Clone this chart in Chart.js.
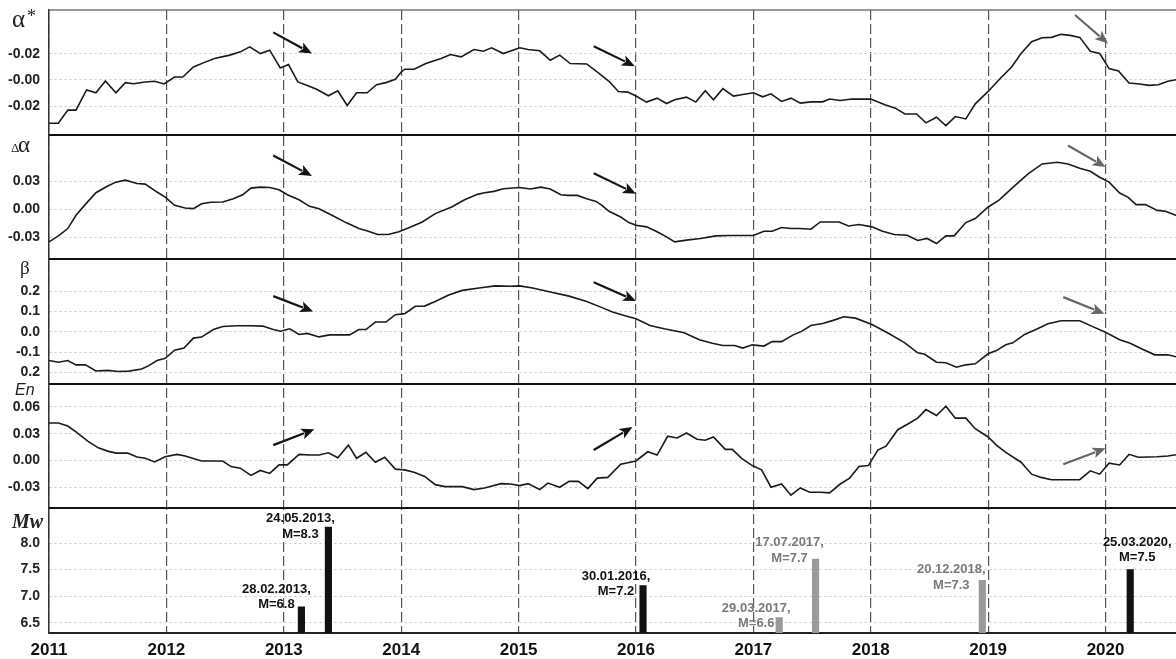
<!DOCTYPE html>
<html>
<head>
<meta charset="utf-8">
<script src="https://cdn.jsdelivr.net/npm/chart.js@4.4.1/dist/chart.umd.min.js"></script>
<style>
  html, body { margin: 0; padding: 0; background: #fff; }
  #wrap { width: 1176px; height: 659px; position: relative; }
</style>
</head>
<body>
<div id="wrap"><canvas id="chart"></canvas></div>
<script>
// x positions are decimal years
const yearTicks = [2011, 2012, 2013, 2014, 2015, 2016, 2017, 2018, 2019, 2020];

// panel 1: alpha*
const alphaYears = [2011.00,2011.08,2011.16,2011.23,2011.32,2011.40,2011.48,2011.57,2011.65,2011.72,2011.82,2011.90,2011.98,
  2012.07,2012.14,2012.23,2012.32,2012.41,2012.54,2012.63,2012.71,2012.80,2012.88,2012.97,
  2013.04,2013.12,2013.20,2013.28,2013.38,2013.46,2013.54,2013.62,2013.71,2013.79,2013.87,2013.95,
  2014.00,2014.03,2014.11,2014.21,2014.34,2014.42,2014.51,2014.62,2014.70,2014.77,2014.87,
  2015.01,2015.08,2015.18,2015.27,2015.35,2015.44,2015.58,2015.68,
  2015.77,2015.85,2015.93,
  2016.00,2016.09,2016.18,2016.26,2016.33,2016.43,2016.51,2016.59,2016.66,2016.74,2016.83,2016.91,
  2017.00,2017.08,2017.15,2017.24,2017.32,2017.40,2017.49,2017.59,2017.65,2017.74,2017.84,
  2018.00,2018.12,2018.21,2018.29,2018.39,2018.47,2018.56,2018.64,2018.72,2018.81,2018.89,
  2019.00,2019.10,2019.20,2019.28,2019.37,2019.46,2019.54,2019.62,2019.70,2019.78,2019.87,2019.95,
  2020.03,2020.11,2020.20,2020.29,2020.37,2020.45,2020.53,2020.62];
const alphaValues = [-0.0329,-0.0329,-0.0229,-0.0229,-0.0076,-0.0097,-0.0008,-0.0097,-0.0020,-0.0028,-0.0015,-0.0010,-0.0030,
  0.0023,0.0023,0.0099,0.0132,0.0163,0.0189,0.0214,0.0252,0.0201,0.0227,0.0092,
  0.0117,-0.0015,-0.0041,-0.0071,-0.0120,-0.0082,-0.0194,-0.0097,-0.0097,-0.0036,-0.0020,0.0005,
  0.0061,0.0082,0.0082,0.0125,0.0163,0.0194,0.0176,0.0232,0.0219,0.0245,0.0201,
  0.0245,0.0232,0.0222,0.0150,0.0189,0.0125,0.0122,0.0054,
  -0.0010,-0.0087,-0.0092,
  -0.0122,-0.0168,-0.0138,-0.0179,-0.0150,-0.0130,-0.0168,-0.0082,-0.0150,-0.0066,-0.0122,-0.0110,
  -0.0097,-0.0128,-0.0105,-0.0163,-0.0138,-0.0176,-0.0166,-0.0166,-0.0145,-0.0156,-0.0145,
  -0.0145,-0.0189,-0.0214,-0.0258,-0.0258,-0.0326,-0.0283,-0.0347,-0.0278,-0.0296,-0.0181,
  -0.0087,0.0010,0.0099,0.0201,0.0291,0.0321,0.0324,0.0347,0.0339,0.0324,0.0219,0.0201,
  0.0087,0.0069,-0.0023,-0.0031,-0.0041,-0.0036,-0.0010,0.0005];

// panel 2: delta alpha
const dAlphaYears = [2011.00,2011.08,2011.16,2011.23,2011.31,2011.40,2011.50,2011.57,2011.65,2011.75,2011.82,2011.92,2011.99,
  2012.07,2012.16,2012.23,2012.30,2012.38,2012.48,2012.57,2012.65,2012.72,2012.80,2012.88,2012.96,
  2013.03,2013.13,2013.22,2013.30,2013.41,2013.53,2013.64,2013.72,2013.80,2013.89,2013.98,
  2014.06,2014.18,2014.29,2014.43,2014.54,2014.65,2014.71,2014.79,2014.87,
  2015.01,2015.10,2015.19,2015.27,2015.36,2015.42,2015.50,2015.58,2015.66,
  2015.71,2015.77,2015.87,2015.94,
  2016.00,2016.09,2016.18,2016.26,2016.33,2016.43,2016.55,2016.68,2016.80,
  2017.00,2017.09,2017.16,2017.24,2017.32,2017.40,2017.49,2017.57,2017.65,2017.73,2017.81,2017.90,
  2018.01,2018.10,2018.20,2018.31,2018.40,2018.48,2018.56,2018.64,2018.71,2018.81,2018.89,
  2019.00,2019.09,2019.22,2019.34,2019.46,2019.59,2019.68,2019.78,2019.87,2019.95,
  2020.03,2020.12,2020.19,2020.26,2020.34,2020.44,2020.51,2020.62];
const dAlphaValues = [-0.0348,-0.0284,-0.0206,-0.0064,0.0053,0.0178,0.0249,0.0291,0.0312,0.0277,0.0270,0.0185,0.0131,
  0.0043,0.0014,0.0007,0.0060,0.0075,0.0078,0.0114,0.0156,0.0227,0.0238,0.0234,0.0209,
  0.0156,0.0103,0.0032,0.0007,-0.0064,-0.0142,-0.0206,-0.0234,-0.0270,-0.0270,-0.0241,
  -0.0199,-0.0135,-0.0046,0.0025,0.0103,0.0160,0.0178,0.0192,0.0220,
  0.0234,0.0217,0.0238,0.0217,0.0156,0.0149,0.0149,0.0114,0.0085,
  0.0043,-0.0021,-0.0082,-0.0142,
  -0.0170,-0.0188,-0.0241,-0.0295,-0.0348,-0.0330,-0.0312,-0.0284,-0.0280,
  -0.0280,-0.0234,-0.0234,-0.0195,-0.0206,-0.0206,-0.0213,-0.0135,-0.0135,-0.0135,-0.0178,-0.0163,
  -0.0188,-0.0234,-0.0270,-0.0277,-0.0334,-0.0312,-0.0366,-0.0284,-0.0284,-0.0142,-0.0099,
  0.0025,0.0096,0.0245,0.0380,0.0486,0.0504,0.0486,0.0440,0.0408,0.0344,
  0.0291,0.0174,0.0131,0.0050,0.0050,-0.0011,-0.0021,-0.0075];

// panel 3: beta
const betaYears = [2011.00,2011.08,2011.16,2011.23,2011.31,2011.40,2011.50,2011.59,2011.68,2011.79,2011.85,2011.92,2011.99,
  2012.07,2012.15,2012.23,2012.30,2012.40,2012.48,2012.60,2012.72,2012.82,2012.91,2012.97,
  2013.05,2013.13,2013.20,2013.30,2013.39,2013.56,2013.64,2013.70,2013.78,2013.87,2013.95,
  2014.03,2014.12,2014.20,2014.29,2014.40,2014.52,2014.68,2014.80,2014.93,
  2015.01,2015.12,2015.27,2015.43,2015.58,2015.70,
  2015.80,2015.90,
  2016.00,2016.12,2016.24,2016.41,2016.54,2016.65,2016.74,2016.84,2016.91,2016.99,
  2017.09,2017.16,2017.24,2017.34,2017.41,2017.49,2017.59,2017.68,2017.77,2017.87,
  2018.01,2018.15,2018.29,2018.40,2018.46,2018.56,2018.64,2018.73,2018.81,2018.89,
  2019.00,2019.07,2019.15,2019.21,2019.31,2019.42,2019.51,2019.62,2019.78,2019.90,
  2020.00,2020.12,2020.21,2020.31,2020.42,2020.53,2020.62];
const betaValues = [-0.141,-0.149,-0.141,-0.162,-0.162,-0.192,-0.189,-0.195,-0.193,-0.182,-0.166,-0.141,-0.130,
  -0.090,-0.080,-0.031,-0.026,0.011,0.026,0.030,0.030,0.028,0.011,0.003,
  0.015,-0.013,-0.008,-0.025,-0.015,-0.015,0.011,0.011,0.048,0.048,0.084,
  0.089,0.125,0.126,0.149,0.179,0.203,0.216,0.225,0.223,
  0.225,0.215,0.195,0.175,0.149,0.121,
  0.097,0.080,
  0.064,0.031,0.015,-0.005,-0.039,-0.056,-0.067,-0.067,-0.080,-0.064,
  -0.070,-0.048,-0.048,-0.015,0.002,0.031,0.041,0.056,0.074,0.067,
  0.036,-0.007,-0.054,-0.103,-0.110,-0.149,-0.152,-0.174,-0.162,-0.157,
  -0.108,-0.092,-0.064,-0.054,-0.013,0.015,0.039,0.054,0.054,0.023,
  -0.002,-0.039,-0.056,-0.084,-0.113,-0.113,-0.125];

// panel 4: En
const enYears = [2011.00,2011.08,2011.16,2011.23,2011.33,2011.42,2011.50,2011.57,2011.67,2011.75,2011.82,2011.90,2011.99,
  2012.09,2012.16,2012.30,2012.38,2012.48,2012.55,2012.63,2012.72,2012.80,2012.88,2012.96,
  2013.03,2013.13,2013.22,2013.30,2013.38,2013.46,2013.55,2013.62,2013.70,2013.78,2013.86,2013.95,
  2014.03,2014.11,2014.20,2014.29,2014.37,2014.52,2014.62,2014.71,2014.85,2014.93,
  2015.01,2015.08,2015.18,2015.25,2015.35,2015.43,2015.51,2015.59,2015.67,2015.76,
  2015.87,
  2016.00,2016.10,2016.18,2016.27,2016.35,2016.43,2016.52,2016.59,2016.66,2016.76,2016.82,2016.90,2016.99,
  2017.07,2017.15,2017.24,2017.32,2017.40,2017.48,2017.57,2017.65,2017.74,2017.82,2017.90,2017.98,
  2018.06,2018.13,2018.23,2018.32,2018.40,2018.47,2018.56,2018.64,2018.72,2018.81,2018.89,
  2019.00,2019.07,2019.15,2019.28,2019.37,2019.45,2019.54,2019.78,2019.87,2019.95,
  2020.03,2020.12,2020.20,2020.28,2020.44,2020.53,2020.62];
const enValues = [0.0419,0.0419,0.0386,0.0320,0.0217,0.0143,0.0106,0.0084,0.0084,0.0040,0.0026,-0.0015,0.0044,
  0.0070,0.0051,-0.0004,-0.0004,-0.0004,-0.0066,-0.0084,-0.0165,-0.0110,-0.0143,-0.0048,
  -0.0048,0.0070,0.0062,0.0062,0.0088,0.0033,0.0173,0.0026,0.0092,-0.0018,0.0037,-0.0095,
  -0.0103,-0.0129,-0.0176,-0.0268,-0.0290,-0.0290,-0.0323,-0.0305,-0.0257,-0.0261,
  -0.0279,-0.0257,-0.0323,-0.0250,-0.0297,-0.0231,-0.0231,-0.0312,-0.0195,-0.0187,
  -0.0040,
  -0.0004,0.0099,0.0062,0.0272,0.0253,0.0308,0.0239,0.0228,0.0264,0.0125,0.0125,0.0026,-0.0055,
  -0.0103,-0.0297,-0.0261,-0.0386,-0.0305,-0.0353,-0.0353,-0.0360,-0.0261,-0.0195,-0.0066,-0.0055,
  0.0117,0.0162,0.0345,0.0411,0.0474,0.0569,0.0503,0.0606,0.0474,0.0474,0.0356,
  0.0264,0.0173,0.0092,-0.0018,-0.0151,-0.0187,-0.0213,-0.0213,-0.0114,-0.0151,
  -0.0029,-0.0048,0.0070,0.0037,0.0044,0.0051,0.0070];

// panel 5: earthquakes
const quakeYears = [2013.15, 2013.38, 2016.06, 2017.22, 2017.53, 2018.95, 2020.21];
const quakeMags = [6.8, 8.3, 7.2, 6.6, 7.7, 7.3, 7.5];
const quakeDates = ['28.02.2013,', '24.05.2013,', '30.01.2016,', '29.03.2017,', '17.07.2017,', '20.12.2018,', '25.03.2020,'];
const quakeTone = ['dark', 'dark', 'dark', 'gray', 'gray', 'gray', 'dark'];

// y ticks per panel (labels kept as printed)
const alphaTicks = [0.02, 0, -0.02];
const alphaTickText = ['-0.02', '-0.00', '-0.02'];
const dAlphaTicks = [0.03, 0, -0.03];
const dAlphaTickText = ['0.03', '0.00', '-0.03'];
const betaTicks = [0.2, 0.1, 0, -0.1, -0.2];
const betaTickText = ['0.2', '0.1', '0.0', '-0.1', '0.2'];
const enTicks = [0.06, 0.03, 0, -0.03];
const enTickText = ['0.06', '0.03', '0.00', '-0.03'];
const mwTicks = [8.0, 7.5, 7.0, 6.5];
const mwTickText = ['8.0', '7.5', '7.0', '6.5'];

// trend arrows (data coords): panel, from, to, tone
const arrowAxis = ['y1', 'y1', 'y1', 'y2', 'y2', 'y2', 'y3', 'y3', 'y3', 'y4', 'y4', 'y4'];
const arrowFromX = [2012.91, 2015.64, 2019.74, 2012.91, 2015.64, 2019.68, 2012.91, 2015.64, 2019.64, 2012.91, 2015.64, 2019.64];
const arrowFromY = [0.0362, 0.0257, 0.0494, 0.0577, 0.0385, 0.0684, 0.175, 0.243, 0.170, 0.0173, 0.0118, -0.0040];
const arrowToX = [2013.24, 2015.99, 2020.02, 2013.24, 2016.00, 2020.00, 2013.25, 2016.00, 2019.99, 2013.26, 2015.97, 2020.00];
const arrowToY = [0.0201, 0.0105, 0.0278, 0.0356, 0.0168, 0.0452, 0.100, 0.151, 0.089, 0.0349, 0.0375, 0.0137];
const arrowTone = ['dark', 'dark', 'gray', 'dark', 'dark', 'gray', 'dark', 'dark', 'gray', 'dark', 'dark', 'gray'];

const MW_MIN = 6.31;
const DARK = '#141414';
const GRAY = '#666666';

// label placement next to the quake bars (pixels)
const labelShiftX = [-25, -28, -27, -23, -26, -31, 7];
const labelShiftY = [-2, 7, 6, 6, -1, 5, -12];

function pts(xs, ys) {
  return xs.map((x, i) => ({ x: x, y: ys[i] }));
}

function yAxis(min, max, tickVals, tickText) {
  return {
    type: 'linear',
    position: 'left',
    stack: 'panels',
    stackWeight: 1,
    min: min,
    max: max,
    afterBuildTicks: s => { s.ticks = tickVals.map(v => ({ value: v })); },
    afterFit: s => {
      s.width = 49;
      s.paddingTop = 0;
      s.paddingBottom = 0;
    },
    ticks: {
      padding: 9,
      autoSkip: false,
      color: '#222',
      font: { family: 'Liberation Sans', weight: 'bold', size: 14 },
      callback: (v, i) => tickText[i]
    },
    grid: { color: '#c8c8c8', lineWidth: 1, drawTicks: false },
    border: { display: true, color: '#333', width: 1.5, dash: [2, 3] }
  };
}

function lineSet(xs, ys, axis) {
  return {
    type: 'line',
    data: pts(xs, ys),
    yAxisID: axis,
    borderColor: '#1a1a1a',
    borderWidth: 1.6,
    pointRadius: 0,
    tension: 0,
    fill: false
  };
}

function drawArrow(ctx, x1, y1, x2, y2, color) {
  const ang = Math.atan2(y2 - y1, x2 - x1);
  const head = 13, half = 5.5;
  const bx = x2 - head * Math.cos(ang), by = y2 - head * Math.sin(ang);
  ctx.strokeStyle = color;
  ctx.fillStyle = color;
  ctx.lineWidth = 2.2;
  ctx.beginPath();
  ctx.moveTo(x1, y1);
  ctx.lineTo(bx + 2 * Math.cos(ang), by + 2 * Math.sin(ang));
  ctx.stroke();
  ctx.beginPath();
  ctx.moveTo(x2, y2);
  ctx.lineTo(bx + half * Math.sin(ang), by - half * Math.cos(ang));
  ctx.lineTo(bx + 3 * Math.cos(ang), by + 3 * Math.sin(ang));
  ctx.lineTo(bx - half * Math.sin(ang), by + half * Math.cos(ang));
  ctx.closePath();
  ctx.fill();
}

const decor = {
  id: 'decor',
  afterDraw(chart) {
    const ctx = chart.ctx;
    const area = chart.chartArea;
    const xs = chart.scales.x;
    ctx.save();

    // top frame and panel separators
    ctx.strokeStyle = '#777';
    ctx.lineWidth = 1.5;
    ctx.beginPath();
    ctx.moveTo(area.left, area.top);
    ctx.lineTo(area.right, area.top);
    ctx.stroke();
    ctx.strokeStyle = '#111';
    ctx.lineWidth = 2;
    ['y2', 'y3', 'y4', 'y5'].forEach(id => {
      const t = Math.round(chart.scales[id].top);
      ctx.beginPath();
      ctx.moveTo(area.left, t);
      ctx.lineTo(area.right, t);
      ctx.stroke();
    });

    // arrows
    arrowAxis.forEach((id, i) => {
      const ys = chart.scales[id];
      drawArrow(ctx,
        xs.getPixelForValue(arrowFromX[i]), ys.getPixelForValue(arrowFromY[i]),
        xs.getPixelForValue(arrowToX[i]), ys.getPixelForValue(arrowToY[i]),
        arrowTone[i] === 'gray' ? GRAY : DARK);
    });

    // panel titles
    const t1 = chart.scales.y1.top, t2 = chart.scales.y2.top, t3 = chart.scales.y3.top,
          t4 = chart.scales.y4.top, t5 = chart.scales.y5.top;
    ctx.fillStyle = '#222';
    ctx.textAlign = 'left';
    ctx.textBaseline = 'alphabetic';
    ctx.font = '25px "Liberation Serif"';
    ctx.fillText('\u03b1', 12, t1 + 17);
    ctx.font = '18px "Liberation Serif"';
    ctx.fillText('*', 27, t1 + 12);
    ctx.font = '13px "Liberation Serif"';
    ctx.fillText('\u0394', 11, t2 + 17);
    ctx.font = '23px "Liberation Serif"';
    ctx.fillText('\u03b1', 18, t2 + 17);
    ctx.font = '19px "Liberation Serif"';
    ctx.fillText('\u03b2', 20, t3 + 15);
    ctx.font = 'italic 16px "Liberation Sans"';
    ctx.fillText('En', 15, t4 + 11.5);
    ctx.font = 'italic bold 20px "Liberation Serif"';
    ctx.fillText('Mw', 12, t5 + 20);

    // earthquake labels
    const meta = chart.getDatasetMeta(4);
    ctx.textAlign = 'center';
    ctx.textBaseline = 'middle';
    ctx.font = 'bold 13px "Liberation Sans"';
    meta.data.forEach((bar, i) => {
      const cx = bar.x + labelShiftX[i];
      const cy = bar.y + labelShiftY[i];
      ctx.fillStyle = quakeTone[i] === 'gray' ? '#7a7a7a' : '#111';
      ctx.fillText(quakeDates[i], cx, cy - 15.5);
      ctx.fillText('M=' + quakeMags[i].toFixed(1), cx, cy);
    });
    ctx.restore();
  }
};

new Chart(document.getElementById('chart'), {
  type: 'line',
  data: {
    datasets: [
      lineSet(alphaYears, alphaValues, 'y1'),
      lineSet(dAlphaYears, dAlphaValues, 'y2'),
      lineSet(betaYears, betaValues, 'y3'),
      lineSet(enYears, enValues, 'y4'),
      {
        type: 'bar',
        data: pts(quakeYears, quakeMags),
        yAxisID: 'y5',
        base: MW_MIN,
        backgroundColor: quakeTone.map(t => t === 'gray' ? '#9a9a9a' : '#111'),
        borderWidth: 0,
        barThickness: 6.5
      }
    ]
  },
  options: {
    responsive: true,
    maintainAspectRatio: false,
    animation: false,
    layout: { padding: { top: 10, left: 0, right: 0, bottom: 0 } },
    plugins: { legend: { display: false }, tooltip: { enabled: false } },
    scales: {
      x: {
        type: 'linear',
        min: 2011,
        max: 2020.6,
        offset: false,
        afterBuildTicks: s => { s.ticks = yearTicks.map(v => ({ value: v })); },
        afterFit: s => { s.height = 26; },
        ticks: {
          padding: 7,
          autoSkip: false,
          maxRotation: 0,
          color: '#111',
          font: { family: 'Liberation Sans', weight: 'bold', size: 17 },
          callback: v => String(v)
        },
        grid: { color: '#555', lineWidth: 1.2, drawTicks: false, offset: false },
        border: { display: true, color: '#222', width: 2, dash: [10, 4] }
      },
      // stacked panels are placed bottom-up in declaration order
      y5: yAxis(MW_MIN, 8.65, mwTicks, mwTickText),
      y4: yAxis(-0.0533, 0.0857, enTicks, enTickText),
      y3: yAxis(-0.255, 0.356, betaTicks, betaTickText),
      y2: yAxis(-0.0534, 0.080, dAlphaTicks, dAlphaTickText),
      y1: yAxis(-0.0415, 0.0532, alphaTicks, alphaTickText)
    }
  },
  plugins: [decor]
});
</script>
</body>
</html>
